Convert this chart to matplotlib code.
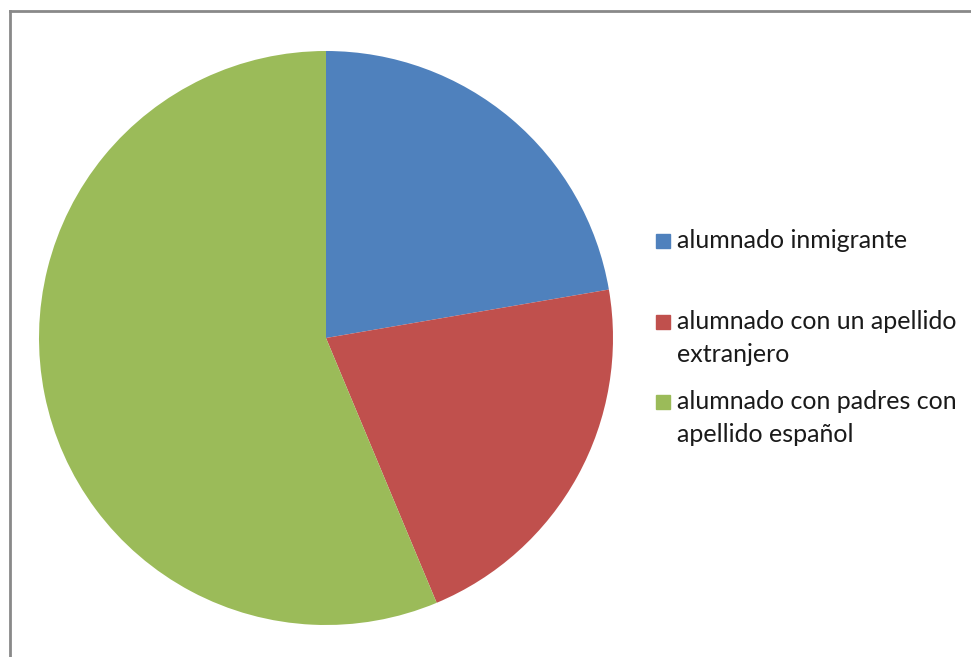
import matplotlib
matplotlib.use("Agg")
import matplotlib.pyplot as plt
from matplotlib.patches import Rectangle
from matplotlib.lines import Line2D

labels = ["alumnado inmigrante",
          "alumnado con un apellido\nextranjero",
          "alumnado con padres con\napellido español"]
values = [22.3, 21.4, 56.3]
colors = ["#4F81BD", "#C0504D", "#9BBB59"]

W, H = 971, 657
fig = plt.figure(figsize=(W / 100, H / 100), dpi=100)

# pie centred at (326, 338) px, radius 287 px
cx, cy, r = 326, 338, 287
ax = fig.add_axes([(cx - r) / W, (H - cy - r) / H, 2 * r / W, 2 * r / H])
ax.pie(values, colors=colors, startangle=90, counterclock=False,
       wedgeprops=dict(linewidth=0))
ax.set_xlim(-1, 1)
ax.set_ylim(-1, 1)
ax.set_aspect("equal")
ax.axis("off")

# chart area border (top and left only visible)
fig.add_artist(Line2D([10 / W, 1], [1 - 11 / H, 1 - 11 / H], color="#898989", lw=2))
fig.add_artist(Line2D([10 / W, 10 / W], [0, 1 - 11 / H], color="#898989", lw=2))

# legend
legend_y = [241, 338, 418]
for lab, col, y in zip(labels, colors, legend_y):
    first_line_y = y if "\n" not in lab else y - 16
    fig.add_artist(Rectangle((656 / W, 1 - (first_line_y + 7) / H), 14 / W, 14 / H,
                             color=col, transform=fig.transFigure))
    fig.text(677 / W, 1 - y / H, lab, fontsize=18, family="Lato",
             color="#1a1a1a", va="center", ha="left", multialignment="left",
             linespacing=1.48)

fig.savefig("out.png", dpi=100)
